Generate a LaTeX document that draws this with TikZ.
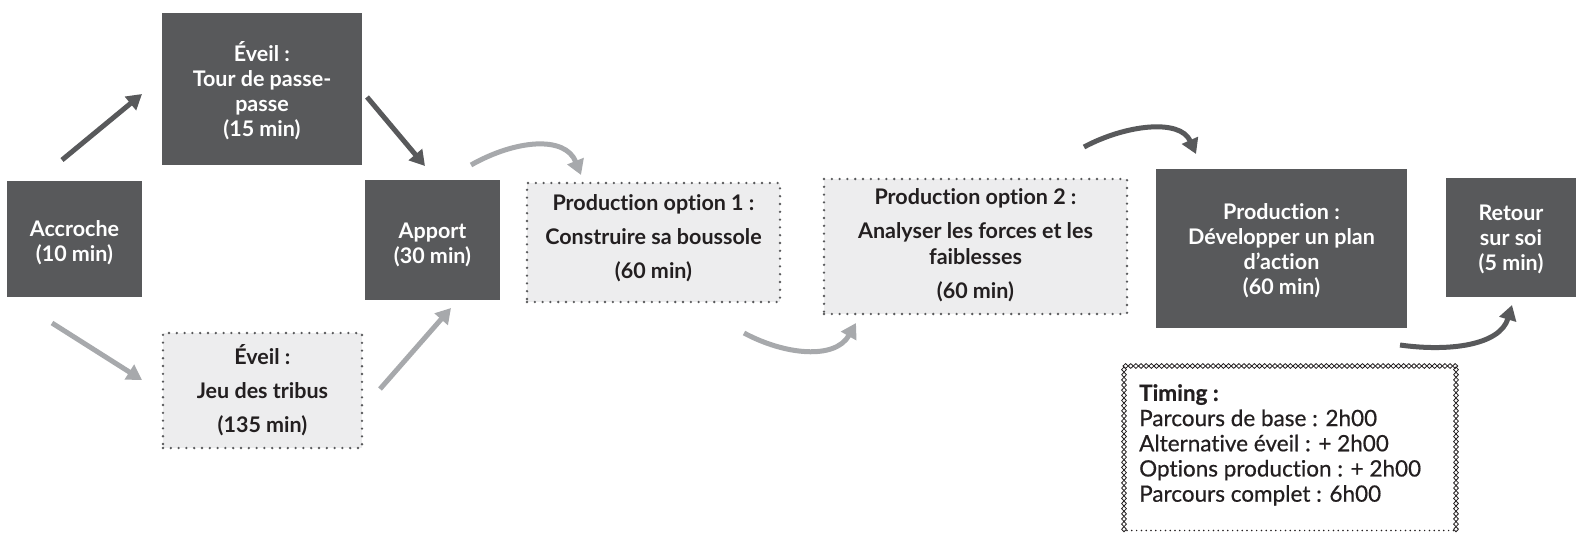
\documentclass[tikz,border=0pt]{standalone}
\usepackage{fontspec}
\setmainfont{Lato}[Ligatures=NoCommon]
\newfontfamily\timingfont{Lato}[Ligatures=NoCommon,FakeBold=0.6]
\usetikzlibrary{arrows.meta}
\definecolor{boxdark}{HTML}{58595B}
\definecolor{boxlight}{HTML}{EDEDEE}
\definecolor{arrowlight}{HTML}{A7A9AC}
\definecolor{txtdark}{HTML}{231F20}
\newcommand{\lowered}[2]{\raisebox{#1}[\height][\depth]{\begin{tabular}{@{}c@{}}#2\end{tabular}}}
\begin{document}
\begin{tikzpicture}[x=1pt,y=-1pt,
  darkbox/.style={fill=boxdark, draw=none, text=white, inner sep=0pt, align=center,
    font=\bfseries\fontsize{21.5}{25}\selectfont},
  optbox/.style={fill=boxlight, draw=boxdark, line width=2.6pt, dash pattern=on 0pt off 7.8pt,
    line cap=round, text=txtdark, inner sep=0pt, align=center,
    font=\bfseries\fontsize{21.5}{26}\selectfont},
  darkarrow/.style={draw=boxdark, line width=5pt, -{Triangle[length=15pt,width=17pt]}},
  lightarrow/.style={draw=arrowlight, line width=5pt, -{Triangle[length=15pt,width=17pt]}},
  diam/.style={draw=txtdark, line width=0.8pt},
  timingtxt/.style={anchor=north west, inner sep=0pt, align=left, text=txtdark,
    font=\timingfont\fontsize{22.5}{25.2}\selectfont}
]
\useasboundingbox (0,0) rectangle (1576,533);

% boxes
\node[darkbox, minimum width=135pt, minimum height=116pt] (acc) at (74.5,239) {\lowered{-5pt}{Accroche\\(10 min)}};
\node[darkbox, minimum width=200pt, minimum height=152pt] (eveil) at (262,89) {\lowered{-4pt}{Éveil :\\Tour de passe-\\passe\\(15 min)}};
\node[darkbox, minimum width=135pt, minimum height=120pt] (apport) at (432.5,240) {\lowered{-6pt}{Apport\\(30 min)}};
\node[optbox, minimum width=199pt, minimum height=115pt] (jeu) at (262.5,390.5) {\lowered{-2pt}{Éveil :\\[8pt]Jeu des tribus\\[8pt](135 min)}};
\node[optbox, minimum width=253pt, minimum height=119pt] (opt1) at (653.5,242.5) {\lowered{3pt}{Production option 1 :\\[8pt]Construire sa boussole\\[8pt](60 min)}};
\node[optbox, minimum width=303pt, minimum height=135pt] (opt2) at (975.5,246.5) {\lowered{0pt}{Production option 2 :\\[8pt]Analyser les forces et les\\faiblesses\\[8pt](60 min)}};
\node[darkbox, minimum width=251pt, minimum height=159pt] (prod) at (1281.5,248.5) {\lowered{-3pt}{Production :\\Développer un plan\\d’action\\(60 min)}};
\node[darkbox, minimum width=130pt, minimum height=119pt] (retour) at (1511,237.5) {\lowered{-3pt}{Retour\\sur soi\\(5 min)}};

% timing box
\node[timingtxt] (timing) at (1139,384) {\textbf{Timing :}\\Parcours de base : 2h00\\Alternative éveil : + 2h00\\Options production : + 2h00\\Parcours complet : 6h00};
\foreach \i in {0,...,64} {
  \draw[diam] ({1123+\i*5.15},366) -- +(2.575,-2.4) -- +(5.15,0) -- +(2.575,2.4) -- cycle;
}
\foreach \j in {0,...,31} {
  \draw[diam] (1124,{367+\j*5.15}) -- +(2.4,2.575) -- +(0,5.15) -- +(-2.4,2.575) -- cycle;
  \draw[diam] (1456,{367+\j*5.15}) -- +(2.4,2.575) -- +(0,5.15) -- +(-2.4,2.575) -- cycle;
}
\draw[txtdark, line width=1.7pt, dash pattern=on 0pt off 4.8pt, line cap=round] (1127,530.5) -- (1454,530.5);

% arrow end points
\coordinate (a1s) at (62,160);   \coordinate (a1e) at (142,94);
\coordinate (a2s) at (367,97);   \coordinate (a2e) at (425,166);
\coordinate (a3s) at (52,323);   \coordinate (a3e) at (142,380);
\coordinate (a4s) at (380,389);  \coordinate (a4e) at (451,308);
\coordinate (c1s) at (471,165);  \coordinate (c1e) at (581,175);
\coordinate (c2s) at (744,333);  \coordinate (c2e) at (856,323);
\coordinate (c3s) at (1084,147); \coordinate (c3e) at (1196,154);
\coordinate (c4s) at (1400,345); \coordinate (c4e) at (1512,305);

\draw[darkarrow] (a1s) -- (a1e);
\draw[darkarrow] (a2s) -- (a2e);
\draw[lightarrow] (a3s) -- (a3e);
\draw[lightarrow] (a4s) -- (a4e);
\draw[lightarrow] (c1s) .. controls (515,140) and (565,135) .. (c1e);
\draw[lightarrow] (c2s) .. controls (785,355) and (835,360) .. (c2e);
\draw[darkarrow] (c3s) .. controls (1125,125) and (1180,118) .. (c3e);
\draw[darkarrow] (c4s) .. controls (1450,352) and (1500,345) .. (c4e);
\end{tikzpicture}
\end{document}
